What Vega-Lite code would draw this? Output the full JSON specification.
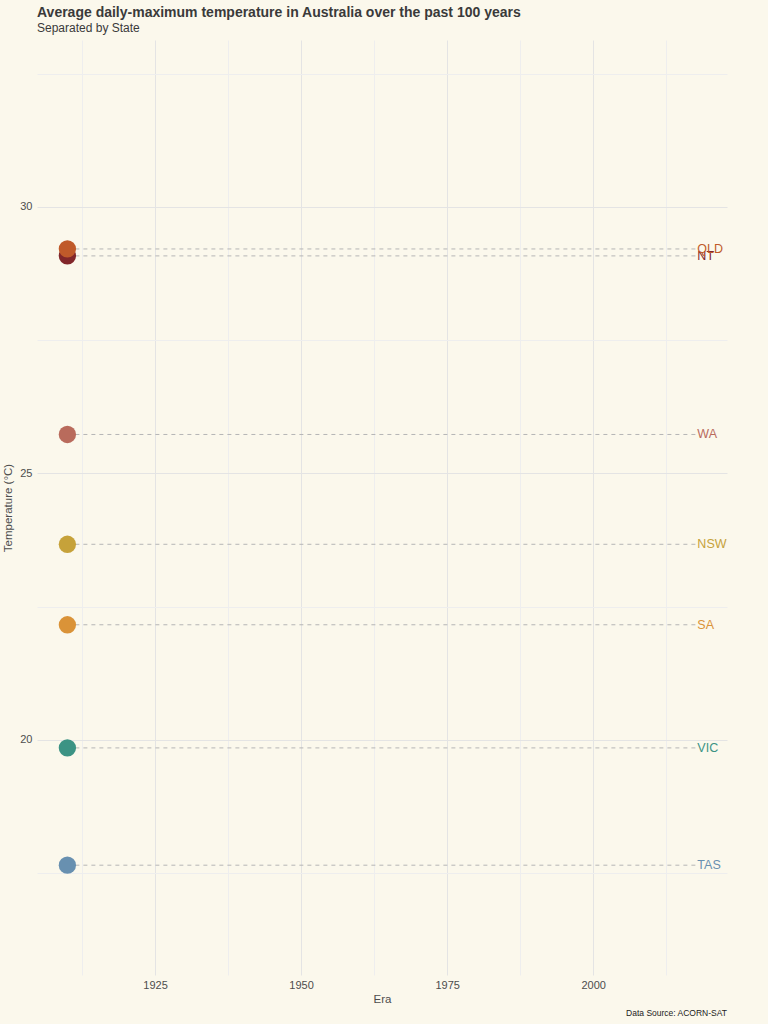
{
  "$schema": "https://vega.github.io/schema/vega-lite/v6.json",
  "autosize": {"type": "none"},
  "padding": {"top": 40, "left": 37, "right": 41, "bottom": 49},
  "width": 690,
  "height": 935,
  "background": "#fbf8ec",
  "title": {
    "text": "Average daily-maximum temperature in Australia over the past 100 years",
    "subtitle": "Separated by State",
    "anchor": "start",
    "frame": "group",
    "font": "Liberation Sans",
    "fontSize": 14,
    "fontWeight": "bold",
    "color": "#3a3a3a",
    "subtitleFont": "Liberation Sans",
    "subtitleFontSize": 12,
    "subtitleColor": "#3a3a3a",
    "subtitlePadding": 3,
    "offset": 6
  },
  "data": {
    "values": [
      {"state": "TAS", "era": 1910, "temp": 17.65, "end": 2018},
      {"state": "VIC", "era": 1910, "temp": 19.85, "end": 2018},
      {"state": "SA", "era": 1910, "temp": 22.16, "end": 2018},
      {"state": "NSW", "era": 1910, "temp": 23.67, "end": 2018},
      {"state": "WA", "era": 1910, "temp": 25.73, "end": 2018},
      {"state": "NT", "era": 1910, "temp": 29.08, "end": 2018},
      {"state": "QLD", "era": 1910, "temp": 29.21, "end": 2018}
    ]
  },
  "encoding": {
    "y": {
      "field": "temp",
      "type": "quantitative",
      "title": "Temperature (°C)",
      "scale": {"domain": [15.59, 33.13], "nice": false, "zero": false},
      "axis": {
        "values": [17.5, 20, 22.5, 25, 27.5, 30, 32.5],
        "labelExpr": "datum.value % 5 === 0 ? datum.label : ''",
        "gridColor": {"condition": {"test": "datum.value % 5 === 0", "value": "#e4e4e4"}, "value": "#eeeeee"}
      }
    }
  },
  "layer": [
    {
      "mark": {"type": "rule", "strokeDash": [4, 4], "strokeWidth": 1, "color": "#b5b5b5"},
      "encoding": {
        "x": {
          "field": "era",
          "type": "quantitative",
          "title": "Era",
          "scale": {"domain": [1904.8, 2022.9], "nice": false, "zero": false},
          "axis": {
            "values": [1912.5, 1925, 1937.5, 1950, 1962.5, 1975, 1987.5, 2000, 2012.5],
            "format": "d",
            "labelExpr": "datum.value % 25 === 0 ? datum.label : ''",
            "gridColor": {"condition": {"test": "datum.value % 25 === 0", "value": "#e4e4e4"}, "value": "#eeeeee"}
          }
        },
        "x2": {"field": "end"}
      }
    },
    {
      "mark": {"type": "circle", "size": 300, "opacity": 1},
      "encoding": {
        "x": {"field": "era", "type": "quantitative"},
        "color": {
          "field": "state",
          "type": "nominal",
          "legend": null,
          "scale": {
            "domain": ["NT", "QLD", "WA", "NSW", "SA", "VIC", "TAS"],
            "range": ["#82272a", "#c05a2a", "#b96b5c", "#c6a23a", "#da9338", "#3c9384", "#6890b0"]
          }
        },
        "order": {"field": "temp", "type": "quantitative"}
      }
    },
    {
      "mark": {"type": "text", "align": "left", "baseline": "middle", "fontSize": 12.5, "font": "Liberation Sans", "dx": -1},
      "encoding": {
        "x": {"field": "end", "type": "quantitative"},
        "text": {"field": "state"},
        "color": {"field": "state", "type": "nominal"}
      }
    },
    {
      "data": {"values": [{"caption": "Data Source: ACORN-SAT"}]},
      "mark": {"type": "text", "align": "right", "baseline": "middle", "fontSize": 8.5, "font": "Liberation Sans", "color": "#222222", "dy": 38},
      "encoding": {
        "x": {"value": "width"},
        "y": {"value": "height"},
        "text": {"field": "caption"}
      }
    }
  ],
  "config": {
    "view": {"stroke": null},
    "axis": {
      "domain": false,
      "ticks": false,
      "labelFont": "Liberation Sans",
      "labelFontSize": 11,
      "labelColor": "#4d4d4d",
      "titleFont": "Liberation Sans",
      "titleFontSize": 11.5,
      "titleFontWeight": "normal",
      "titleColor": "#4d4d4d",
      "gridWidth": 1
    },
    "axisY": {"labelPadding": 5, "titlePadding": 6},
    "axisX": {"labelPadding": 4, "titlePadding": 3}
  }
}
